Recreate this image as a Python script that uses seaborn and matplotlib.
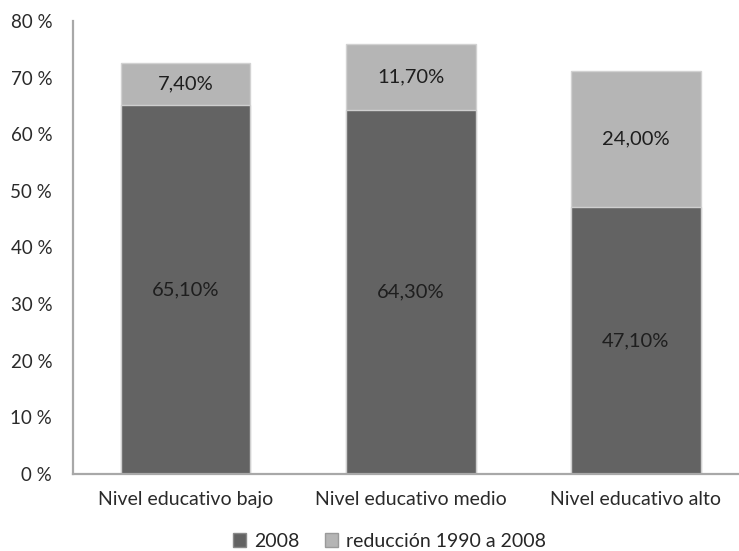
import seaborn as sns
import pandas as pd
import matplotlib.pyplot as plt
from matplotlib.patches import Patch

# values
niveles = ["Nivel educativo bajo", "Nivel educativo medio", "Nivel educativo alto"]
valores_2008 = [65.1, 64.3, 47.1]
reduccion = [7.4, 11.7, 24.0]
etiquetas_2008 = ["65,10%", "64,30%", "47,10%"]
etiquetas_red = ["7,40%", "11,70%", "24,00%"]
yticks = [0, 10, 20, 30, 40, 50, 60, 70, 80]

df = pd.DataFrame({"nivel": niveles, "v2008": valores_2008, "red": reduccion})
df["total"] = df["v2008"] + df["red"]

sns.set_theme(style="white")
plt.rcParams["font.family"] = ["Lato", "DejaVu Sans"]

oscuro = "#636363"
claro = "#b5b5b5"

fig = plt.figure(figsize=(7.39, 5.51), dpi=100)
ax = fig.add_axes([0.0988, 0.140, 0.901, 0.822])

# stacked bars: total (light) first, 2008 part (dark) over it
sns.barplot(data=df, x="nivel", y="total", color=claro, width=0.576,
            saturation=1, edgecolor="#d2d2d2", linewidth=1.0, ax=ax)
sns.barplot(data=df, x="nivel", y="v2008", color=oscuro, width=0.576,
            saturation=1, edgecolor="#cfcfcf", linewidth=1.0, ax=ax)

for i, row in df.iterrows():
    ax.text(i, row["v2008"] / 2, etiquetas_2008[i], ha="center", va="center",
            fontsize=14.5, color="#1e1e1e")
    ax.text(i, row["v2008"] + row["red"] / 2, etiquetas_red[i], ha="center",
            va="center", fontsize=14.5, color="#1e1e1e")

ax.set_xlim(-0.5, 2.457)
ax.set_ylim(0, 80)
ax.set_yticks(yticks)
ax.set_yticklabels([f"{t} %" for t in yticks])
ax.set_xlabel("")
ax.set_ylabel("")
ax.tick_params(axis="y", length=0, pad=15, labelsize=13.5, labelcolor="#2a2a2a")
ax.tick_params(axis="x", length=0, pad=12, labelsize=14, labelcolor="#2a2a2a")

sns.despine(ax=ax, top=True, right=True)
for s in ["left", "bottom"]:
    ax.spines[s].set_color("#a8a8a8")
    ax.spines[s].set_linewidth(1.6)

handles = [Patch(facecolor=oscuro, edgecolor="#8a8a8a", label="2008"),
           Patch(facecolor=claro, edgecolor="#9a9a9a", label="reducción 1990 a 2008")]
fig.legend(handles=handles, loc="center", bbox_to_anchor=(0.527, 0.018), ncol=2,
           frameon=False, fontsize=14, handlelength=0.7, handleheight=0.7,
           handletextpad=0.4, columnspacing=1.3)

fig.savefig("out.png", dpi=100)
